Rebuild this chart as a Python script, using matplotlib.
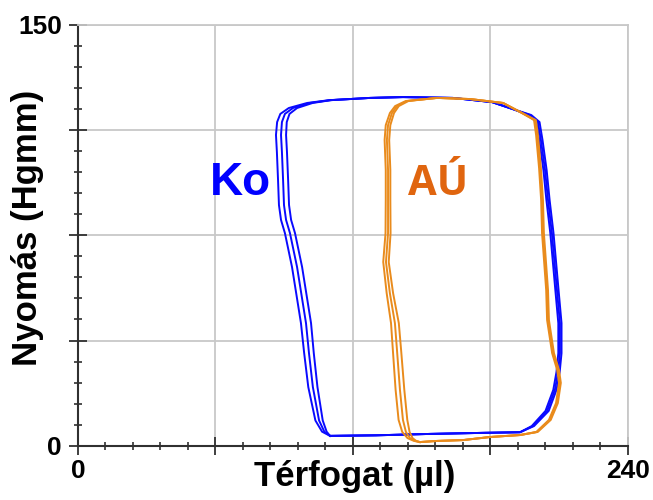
import matplotlib
matplotlib.use("Agg")
import matplotlib.pyplot as plt
from matplotlib.ticker import FixedLocator, FixedFormatter, MultipleLocator

# pressure-volume loops (volume in ul, pressure in Hgmm)
ko_p = [3.5, 3.7, 4.2, 4.6, 4.8, 7.0, 12.4, 19.9, 26.3, 33.0, 43.7, 55.5, 75.8, 87.6,
        98.3, 109.0, 115.4, 117.9, 120.0, 122.5, 124.0, 124.3, 124.0, 123.2, 122.2,
        120.4, 118.3, 115.4, 110.8, 104.7, 94.7, 85.8, 80.5, 75.8, 63.7, 43.7, 33.0,
        20.9, 9.0, 5.0, 3.5]
ko_v_outer = [110.0, 130.0, 153.6, 178.0, 192.9, 198.0, 204.0, 207.4, 208.8, 209.6, 209.6,
              208.3, 206.1, 204.4, 203.1, 201.3, 200.0, 196.6, 189.8, 180.7, 163.6, 141.8,
              127.4, 109.6, 100.0, 92.0, 88.3, 86.9, 86.4, 86.8, 87.3, 87.7, 88.6, 90.3,
              93.4, 97.3, 98.7, 100.5, 103.6, 106.5, 110.0]
ko_v_mid = [110.0, 130.0, 153.6, 178.0, 192.9, 198.5, 204.7, 208.1, 209.5, 210.3, 210.3,
            209.0, 206.8, 205.1, 203.8, 202.0, 200.7, 197.2, 189.8, 180.7, 163.6, 141.8,
            127.4, 110.0, 101.2, 93.8, 90.3, 89.0, 88.6, 89.0, 89.5, 89.9, 90.8, 92.5,
            95.6, 99.5, 100.8, 102.5, 105.2, 107.5, 110.0]
ko_v_inner = [110.0, 130.0, 153.6, 178.0, 192.9, 199.0, 205.4, 208.8, 210.2, 211.0, 211.0,
              209.7, 207.5, 205.8, 204.5, 202.7, 201.4, 197.8, 189.8, 180.7, 163.6, 141.8,
              127.4, 110.4, 102.4, 95.6, 92.3, 91.1, 90.8, 91.2, 91.7, 92.1, 93.0, 94.7,
              97.8, 101.7, 102.9, 104.5, 106.8, 108.5, 110.0]

au_p = [1.3, 1.7, 2.0, 3.1, 3.8, 4.9, 9.2, 15.2, 22.4, 27.0, 33.0, 44.8, 55.5, 75.8, 87.6,
        99.0, 110.8, 116.1, 119.0, 122.2, 123.6, 124.0, 122.9, 121.1, 118.6, 114.3, 109.0,
        98.3, 87.6, 75.8, 65.5, 54.4, 43.7, 34.1, 19.9, 9.2, 4.9, 2.7, 1.7, 1.3]
au_v_outer = [149.2, 156.7, 168.0, 179.8, 192.9, 200.0, 205.5, 208.6, 209.9, 209.1, 206.9,
              204.7, 204.3, 202.5, 202.1, 201.2, 199.9, 199.0, 192.9, 185.5, 171.1, 156.7,
              143.0, 138.4, 136.1, 134.3, 133.8, 134.3, 134.3, 134.2, 133.2, 134.7, 136.6,
              137.4, 138.6, 139.9, 141.5, 143.8, 146.6, 149.2]
au_v_mid = [149.2, 156.7, 168.0, 179.8, 192.9, 200.3, 205.9, 209.0, 210.3, 209.5, 207.3,
            205.1, 204.7, 202.9, 202.5, 201.6, 200.3, 199.4, 192.9, 185.5, 171.1, 156.7,
            143.6, 139.2, 137.0, 135.3, 134.8, 135.3, 135.3, 135.3, 134.4, 136.1, 138.3,
            139.2, 140.5, 141.8, 143.1, 144.9, 147.1, 149.2]
au_v_inner = [149.2, 156.7, 168.0, 179.8, 192.9, 200.6, 206.3, 209.4, 210.7, 209.9, 207.7,
              205.5, 205.1, 203.3, 202.9, 202.0, 200.7, 199.8, 192.9, 185.5, 171.1, 156.7,
              144.2, 140.0, 137.9, 136.3, 135.8, 136.3, 136.3, 136.4, 135.6, 137.5, 140.0,
              141.0, 142.4, 143.7, 144.7, 146.0, 147.6, 149.2]

x_ticks = [0, 60, 120, 180, 240]
x_labels = ["0", "", "", "", "240"]
y_ticks = [0, 37.5, 75, 112.5, 150]
y_labels = ["0", "", "", "", "150"]

BLUE = "#0a0aff"
ORANGE = "#e98b1c"

plt.rcParams["font.family"] = ["Liberation Sans", "DejaVu Sans"]
plt.rcParams["font.weight"] = "bold"

fig = plt.figure(figsize=(6.53, 5.0), dpi=100)
ax = fig.add_axes([0.1194, 0.1086, 0.8423, 0.8414])

for v in (ko_v_outer, ko_v_mid, ko_v_inner):
    ax.plot(v, ko_p, color=BLUE, lw=1.4, solid_joinstyle="round", zorder=3)
for v in (au_v_outer, au_v_mid, au_v_inner):
    ax.plot(v, au_p, color=ORANGE, lw=1.4, solid_joinstyle="round", zorder=4)

ax.text(57.5, 89.5, "Ko", color="#0000ff", fontsize=33, fontweight="bold")
ax.text(144, 89.5, "AÚ", color="#e0650f", fontsize=30, fontweight="bold",
        family=["Open Sans", "DejaVu Sans"])

ax.set_xlim(0, 240)
ax.set_ylim(0, 150)
ax.xaxis.set_major_locator(FixedLocator(x_ticks))
ax.xaxis.set_major_formatter(FixedFormatter(x_labels))
ax.yaxis.set_major_locator(FixedLocator(y_ticks))
ax.yaxis.set_major_formatter(FixedFormatter(y_labels))
ax.xaxis.set_minor_locator(MultipleLocator(12))
ax.yaxis.set_minor_locator(MultipleLocator(7.5))

ax.grid(True, which="major", color="#c8c8c8", lw=1.3, zorder=0)
ax.set_axisbelow(True)
for side in ("top", "right"):
    ax.spines[side].set_color("#c8c8c8")
    ax.spines[side].set_linewidth(1.3)
for side in ("left", "bottom"):
    ax.spines[side].set_color("#303030")
    ax.spines[side].set_linewidth(1.5)

ax.tick_params(which="major", direction="inout", length=13, width=1.3, color="#303030",
               labelsize=19, pad=3)
ax.tick_params(which="minor", direction="inout", length=6, width=1.2, color="#303030")
ax.tick_params(axis="y", which="major", pad=5)

ax.set_xlabel("Térfogat (µl)", fontsize=25, fontweight="bold", va="center")
ax.set_ylabel("Nyomás (Hgmm)", fontsize=25, fontweight="bold", va="center")
ax.xaxis.set_label_coords(0.503, -0.074)
ax.yaxis.set_label_coords(-0.092, 0.517)

fig.savefig("out.png", dpi=100, facecolor="white")
